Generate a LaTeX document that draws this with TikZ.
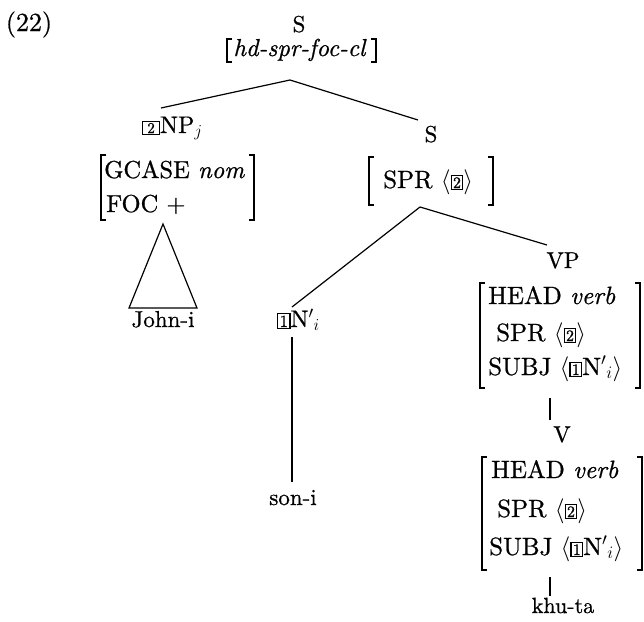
\RequirePackage{fix-cm}
\documentclass[tikz,border=0pt]{standalone}
\usepackage{fontspec}
\setmainfont{lmroman10-regular.otf}[ItalicFont=lmroman10-italic.otf,BoldFont=lmroman10-bold.otf,RawFeature={embolden=0.8}]
\newcommand\tg[2][16]{{\setlength{\fboxsep}{1.3pt}\setlength{\fboxrule}{1.1pt}\fbox{\fontsize{#1}{#1}\selectfont #2}}}
\newcommand\tgw[2][15]{{\setlength{\fboxsep}{1.3pt}\setlength{\fboxrule}{1.1pt}\fbox{\fontsize{#1}{#1}\selectfont\makebox[13pt]{#2}}}}
\newcommand\avmbrackets[4]{%
  \draw[brk] ({#1+5},#3) -- (#1,#3) -- (#1,#4) -- ({#1+5},#4);
  \draw[brk] ({#2-5},#3) -- (#2,#3) -- (#2,#4) -- ({#2-5},#4);}
\tikzset{
  lbl/.style={font=\fontsize{23}{28}\selectfont, inner sep=0pt, anchor=base},
  row/.style={font=\fontsize{25}{30}\selectfont, inner sep=0pt, anchor=base west},
  edge/.style={line width=1.2pt},
  brk/.style={line width=1.4pt},
}
\begin{document}
\begin{tikzpicture}[x=1pt,y=-1pt]
\useasboundingbox (0,0) rectangle (644,621);
% example number
\node[lbl,font=\fontsize{26}{30}\selectfont] (ex) at (29,31) {(22)};
% root
\node[lbl] (S) at (299,32) {S};
\node[lbl,font=\fontsize{24.5}{28}\selectfont] (Stype) at (300,56) {\textit{hd-spr-foc-cl}};
\avmbrackets{227}{376}{39}{62}
\coordinate (Sbot) at (290,80);
% left daughter
\node[row,font=\fontsize{24}{30}\selectfont] (NP) at (142,133) {\tgw{2}NP$_j$};
\coordinate (NPtop) at (161,108);
\node[row,font=\fontsize{24.5}{30}\selectfont] (gcase) at (104,178) {GCASE \textit{nom}};
\node[row,font=\fontsize{24.5}{30}\selectfont] (foc) at (106,212) {FOC +};
\avmbrackets{101}{254}{155}{220}
\coordinate (triA) at (163,224);
\coordinate (triL) at (129,308);
\coordinate (triR) at (197,308);
\draw[edge] (triA) -- (triL) -- (triR) -- cycle;
\node[lbl] (john) at (163,327) {John-i};
% right daughter
\node[lbl] (S2) at (431,142) {S};
\coordinate (S2top) at (418,120);
\node[row] (spr0) at (383,188) {SPR $\langle$\tg{2}$\rangle$};
\avmbrackets{369}{493}{157}{205}
\coordinate (S2bot) at (420,207);
\draw[edge] (NPtop) -- (Sbot) -- (S2top);
% N'
\node[row,font=\fontsize{24}{30}\selectfont] (N1) at (277,327) {\tg[17]{1}N$'{}_i$};
\coordinate (N1top) at (292,307);
\coordinate (N1bot) at (292,337);
\node[lbl] (son) at (293,505) {son-i};
\coordinate (sontop) at (292,482);
\draw[edge] (N1top) -- (S2bot);
\draw[edge] (N1bot) -- (sontop);
% VP
\node[lbl] (VP) at (563,268) {VP};
\coordinate (VPtop) at (547,245);
\draw[edge] (S2bot) -- (VPtop);
\node[row] (vphead) at (488,304) {HEAD \textit{verb}};
\node[row] (vpspr) at (496,341) {SPR $\langle$\tg{2}$\rangle$};
\node[row] (vpsubj) at (488,375) {SUBJ $\langle$\tg{1}N$'{}_i\rangle$};
\avmbrackets{480}{640}{283}{388}
\coordinate (VPbot) at (550,398);
% V
\node[lbl] (V) at (562,442) {V};
\coordinate (Vtop) at (550,420);
\draw[edge] (VPbot) -- (Vtop);
\node[row] (vhead) at (491,478) {HEAD \textit{verb}};
\node[row] (vspr) at (497,517) {SPR $\langle$\tg{2}$\rangle$};
\node[row] (vsubj) at (489,555) {SUBJ $\langle$\tg{1}N$'{}_i\rangle$};
\avmbrackets{482}{642}{457}{570}
\coordinate (Vbot) at (550,577);
\coordinate (khutop) at (550,596);
\node[lbl,font=\fontsize{22}{26}\selectfont] (khu) at (563,613) {khu-ta};
\draw[edge] (Vbot) -- (khutop);
\end{tikzpicture}
\end{document}
